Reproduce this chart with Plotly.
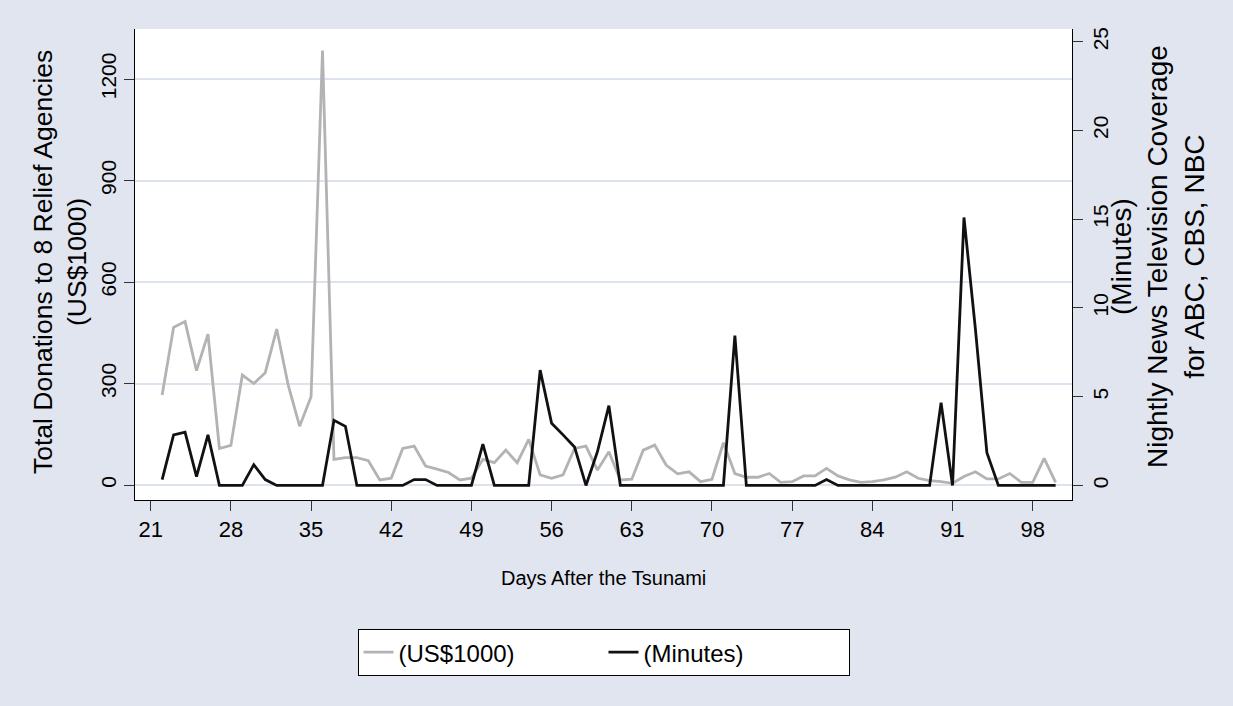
import plotly.graph_objects as go

days = list(range(22, 101))
donations = [266, 466, 483, 338, 446, 108, 117, 325, 300, 332,
             461, 296, 174, 261, 1284, 76, 81, 81, 72, 15,
             20, 108, 115, 56, 47, 37, 15, 20, 76, 66,
             103, 66, 135, 30, 20, 30, 108, 115, 44, 98,
             15, 17, 103, 118, 59, 33, 39, 10, 17, 125,
             34, 23, 23, 34, 8, 10, 27, 27, 49, 27,
             15, 8, 10, 15, 23, 39, 20, 13, 10, 5,
             25, 39, 18, 18, 34, 8, 8, 79, 8]
minutes = [0.33, 2.85, 3.0, 0.5, 2.85, 0, 0, 0, 1.17, 0.33,
           0, 0, 0, 0, 0, 3.67, 3.33, 0, 0, 0,
           0, 0, 0.33, 0.33, 0, 0, 0, 0, 2.33, 0,
           0, 0, 0, 6.5, 3.5, 2.85, 2.17, 0, 1.9, 4.5,
           0, 0, 0, 0, 0, 0, 0, 0, 0, 0,
           8.45, 0, 0, 0, 0, 0, 0, 0, 0.33, 0,
           0, 0, 0, 0, 0, 0, 0, 0, 4.67, 0,
           15.1, 8.8, 1.85, 0, 0, 0, 0, 0, 0]
x_ticks = [21, 28, 35, 42, 49, 56, 63, 70, 77, 84, 91, 98]
left_ticks = [0, 300, 600, 900, 1200]
right_ticks = [0, 5, 10, 15, 20, 25]

FONT = "Liberation Sans, Arial, sans-serif"
BG = "#e1e5ef"
GRID = "#dde3ee"

fig = go.Figure()
fig.add_trace(go.Scatter(x=days, y=donations, name="(US$1000)", mode="lines",
                         line=dict(color="#b3b3b3", width=2.8), yaxis="y"))
fig.add_trace(go.Scatter(x=days, y=minutes, name="(Minutes)", mode="lines",
                         line=dict(color="#111111", width=2.8), yaxis="y2"))

fig.update_layout(
    width=1233, height=706,
    margin=dict(l=135, r=161, t=29, b=206),
    paper_bgcolor=BG, plot_bgcolor="white",
    font=dict(family=FONT, color="black", size=20),
    xaxis=dict(range=[19.63, 101.43], tickvals=x_ticks, ticks="outside", ticklen=10,
               tickcolor="#333", showline=True, linecolor="black", linewidth=1,
               showgrid=False, zeroline=False, tickfont=dict(size=22)),
    yaxis=dict(range=[-44.3, 1348], tickvals=left_ticks, tickangle=-90, ticks="outside",
               ticklen=10, tickcolor="#333", showline=True, linecolor="black", linewidth=1,
               showgrid=True, gridcolor=GRID, gridwidth=2, zeroline=False,
               tickfont=dict(size=21)),
    yaxis2=dict(range=[-0.82, 25.72], tickvals=right_ticks, tickangle=-90, ticks="outside",
                ticklen=10, tickcolor="#333", showline=True, linecolor="black", linewidth=1,
                showgrid=False, zeroline=False, overlaying="y", side="right",
                tickfont=dict(size=21)),
    legend=dict(orientation="h", x=0.5, xanchor="center", y=-0.274, yanchor="top",
                bgcolor="white", bordercolor="black", borderwidth=1,
                font=dict(size=24), entrywidth=200),
    annotations=[
        dict(text="Total Donations to 8 Relief Agencies<br>(US$1000)", textangle=-90,
             xref="paper", yref="paper", x=(60 - 135) / 937, y=(500 - 262) / 471,
             xanchor="center", yanchor="middle", showarrow=False, font=dict(size=26.5)),
        dict(text="(Minutes)<br>Nightly News Television Coverage<br>for ABC, CBS, NBC",
             textangle=-90, xref="paper", yref="paper", x=(1158 - 135) / 937,
             y=(500 - 257) / 471, xanchor="center", yanchor="middle", showarrow=False,
             font=dict(size=28)),
        dict(text="Days After the Tsunami", xref="paper", yref="paper", x=0.5,
             y=(500 - 578) / 471, xanchor="center", yanchor="middle", showarrow=False,
             font=dict(size=20)),
    ],
)

fig.write_html("out.html", config={"displayModeBar": False},
               post_script="document.body.style.margin='0';document.body.style.overflow='hidden';")
